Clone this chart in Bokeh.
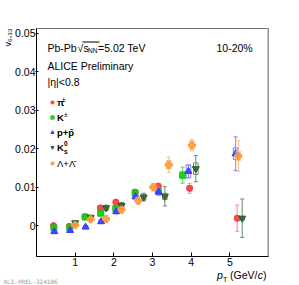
import math
from bokeh.plotting import figure
from bokeh.layouts import column, row
from bokeh.models import (ColumnDataSource, Whisker, TeeHead, Label, Span, Range1d,
                          FixedTicker, Legend, LegendItem, BoxAnnotation, Title)
from bokeh.embed import file_html
from bokeh.resources import INLINE

# ---------------- data ----------------
pi_x = [0.44, 0.85, 1.25, 1.65, 2.05, 2.55, 3.15, 3.96, 5.19]
pi_y = [0.0000, -0.0002, 0.0023, 0.0046, 0.0061, 0.0087, 0.0102, 0.0097, 0.0019]
pi_stat = [0.0003, 0.0003, 0.0003, 0.0004, 0.0004, 0.0006, 0.0008, 0.0013, 0.0034]
pi_sys = [0.0004, 0.0004, 0.0004, 0.0005, 0.0005, 0.0006, 0.0007, 0.0007, 0.0007]

k_x = [0.45, 0.86, 1.26, 1.66, 2.05, 2.55, 3.15, 3.78]
k_y = [-0.0006, -0.0006, 0.0022, 0.0032, 0.0044, 0.0084, 0.0090, 0.0131]
k_stat = [0.0003, 0.0003, 0.0004, 0.0004, 0.0005, 0.0006, 0.0009, 0.0021]
k_sys = [0.0004, 0.0004, 0.0004, 0.0005, 0.0005, 0.0006, 0.0007, 0.0009]

p_x = [0.46, 0.87, 1.27, 1.67, 2.06, 2.56, 3.16, 3.93, 5.15]
p_y = [-0.0016, -0.0013, -0.0004, 0.0010, 0.0036, 0.0075, 0.0087, 0.0141, 0.0187]
p_stat = [0.0004, 0.0004, 0.0004, 0.0004, 0.0005, 0.0006, 0.0008, 0.0016, 0.0044]
p_sys = [0.0004, 0.0004, 0.0004, 0.0005, 0.0005, 0.0006, 0.0007, 0.0017, 0.0015]

k0_x = [1.00, 1.40, 1.80, 2.20, 2.77, 3.32, 4.12, 5.32]
k0_y = [0.0007, 0.0021, 0.0046, 0.0052, 0.0074, 0.0076, 0.0148, 0.0019]
k0_stat = [0.0005, 0.0006, 0.0007, 0.0008, 0.0010, 0.0025, 0.0034, 0.0050]
k0_sys = [0.0005, 0.0005, 0.0006, 0.0007, 0.0008, 0.0008, 0.0015, 0.0005]

l_x = [1.00, 1.40, 1.80, 2.20, 2.63, 3.02, 3.42, 4.02, 5.22]
l_y = [0.0001, 0.0016, 0.0017, 0.0041, 0.0065, 0.0100, 0.0158, 0.0209, 0.0181]
l_stat = [0.0006, 0.0007, 0.0007, 0.0008, 0.0010, 0.0010, 0.0020, 0.0015, 0.0040]
l_sys = [0.0005, 0.0005, 0.0005, 0.0006, 0.0008, 0.0008, 0.0011, 0.0011, 0.0012]

x_ticks = [1, 2, 3, 4, 5]
y_ticks = [0.0, 0.01, 0.02, 0.03, 0.04, 0.05]
y_tick_labels = ["0", "0.01", "0.02", "0.03", "0.04", "0.05"]
y_title = "v₆,₃₃"

FONT = "Liberation Sans"
MAIN_H = 270
TOTAL_W, TOTAL_H = 299, 285

p = figure(width=TOTAL_W, height=MAIN_H, output_backend="svg",
           toolbar_location=None,
           x_range=Range1d(0, 6), y_range=Range1d(-0.00807, 0.0513),
           min_border_left=36, min_border_right=31, min_border_top=28,
           min_border_bottom=14)
p.grid.visible = False
p.outline_line_color = "#777777"
p.outline_line_width = 1
p.background_fill_color = "white"
p.border_fill_color = "white"

for ax in (p.xaxis[0], p.yaxis[0]):
    ax.axis_line_color = "black"
    ax.major_tick_line_color = "black"
    ax.minor_tick_line_color = None
    ax.major_label_text_font = FONT
    ax.major_label_text_font_size = "10.5px"
    ax.major_label_text_color = "black"
p.xaxis.ticker = FixedTicker(ticks=x_ticks)
p.xaxis.major_tick_in = 4
p.xaxis.major_tick_out = 0
p.xaxis.major_label_standoff = 1
p.yaxis.ticker = FixedTicker(ticks=y_ticks)
p.yaxis.major_label_overrides = {t: s for t, s in zip(y_ticks, y_tick_labels)}
p.yaxis.major_tick_in = 2
p.yaxis.major_tick_out = 1
p.yaxis.major_label_standoff = 0

# y-axis title, top-aligned in the left panel
p.add_layout(Title(text=y_title, align="right", text_font=FONT,
                   text_font_size="9px", text_font_style="normal",
                   text_color="black", standoff=0, offset=0), "left")

# right grey frame edge
p.add_layout(Span(location=6, dimension="height", line_color="#b4b4b4", line_width=2.5))

series = [
    ("pi", pi_x, pi_y, pi_stat, pi_sys, "circle", 6, "#ff3a3a", "#ff8585"),
    ("k", k_x, k_y, k_stat, k_sys, "square", 6, "#19c519", "#55d555"),
    ("p", p_x, p_y, p_stat, p_sys, "triangle", 7, "#3a3aff", "#8585ff"),
    ("k0", k0_x, k0_y, k0_stat, k0_sys, "inverted_triangle", 7, "#2e5e2e", "#6a8c6a"),
    ("l", l_x, l_y, l_stat, l_sys, "plus", 7, "#ff9a3c", "#ffbf80"),
]

renderers = {}
for name, xs, ys, st, sy, marker, size, col, lcol in series:
    src = ColumnDataSource(dict(
        x=xs, y=ys,
        lo=[a - b for a, b in zip(ys, st)], hi=[a + b for a, b in zip(ys, st)],
        h=[2 * s for s in sy]))
    p.rect(x="x", y="y", width=0.12, height="h", source=src, fill_color=None,
           line_color=lcol, line_width=1)
    w = Whisker(base="x", lower="lo", upper="hi", source=src, dimension="height",
                line_color=lcol, line_width=1, level="underlay",
                upper_head=TeeHead(size=4, line_color=lcol, line_width=1),
                lower_head=TeeHead(size=4, line_color=lcol, line_width=1))
    p.add_layout(w)
    r = p.scatter(x="x", y="y", source=src, marker=marker, size=size,
                  fill_color=col, line_color=col, fill_alpha=0.9)
    renderers[name] = r

# legends (bold and normal)
leg1 = Legend(items=[LegendItem(label="π", renderers=[renderers["pi"]]),
                     LegendItem(label="K", renderers=[renderers["k"]]),
                     LegendItem(label="p+p̄", renderers=[renderers["p"]]),
                     LegendItem(label="K", renderers=[renderers["k0"]])],
              location=(12, 103))
leg2 = Legend(items=[LegendItem(label="Λ+Λ̄", renderers=[renderers["l"]])],
              location=(12, 87))
for lg, style in ((leg1, "bold"), (leg2, "normal")):
    lg.label_text_font = FONT
    lg.label_text_font_size = "9.5px"
    lg.label_text_font_style = style
    lg.label_text_color = "black"
    lg.glyph_width = 8
    lg.glyph_height = 12
    lg.label_height = 12
    lg.label_standoff = 1
    lg.spacing = 3
    lg.padding = 0
    lg.margin = 0
    lg.border_line_color = None
    lg.background_fill_alpha = 0
    p.add_layout(lg)

footer = figure(width=TOTAL_W, height=TOTAL_H - MAIN_H, output_backend="svg",
                toolbar_location=None, x_axis_type=None, y_axis_type=None,
                x_range=Range1d(0, 1), y_range=Range1d(0, 1), min_border=0)
footer.grid.visible = False
footer.outline_line_color = None
footer.background_fill_color = "white"
footer.border_fill_color = "white"


def lab(fig, ox, oy, text, px, py, size="10.5px", style="normal", align="left",
        angle=0, color="black", font=FONT):
    # (ox, oy): page position of fig's frame bottom-left corner
    fig.add_layout(Label(x=px - ox, y=oy - py, x_units="screen", y_units="screen",
                         text=text, text_font=font, text_font_size=size,
                         text_font_style=style, text_align=align,
                         text_baseline="middle", angle=angle, text_color=color))


M = (p, 36, 256)
lab(*M, "Pb-Pb", 47, 47)
lab(*M, "√", 77, 47)
lab(*M, "s", 83, 47)
lab(*M, "NN", 87.5, 50, size="6.5px")
lab(*M, "=5.02 TeV", 97.5, 47)
p.add_layout(BoxAnnotation(left=82 - 36, right=99 - 36, top=256 - 41, bottom=256 - 42,
                           left_units="screen", right_units="screen",
                           top_units="screen", bottom_units="screen",
                           fill_color="black", fill_alpha=1, line_color=None))
lab(*M, "10-20%", 216, 47)
lab(*M, "ALICE Preliminary", 47, 65)
lab(*M, "|η|<0.8", 47, 81)

# legend super/subscripts
lab(*M, "±", 61.5, 99, size="6.5px")
lab(*M, "±", 63.5, 114, size="6.5px")
lab(*M, "0", 63.5, 143, size="6.5px", style="bold")
lab(*M, "s", 63.5, 151, size="6.5px", style="bold")

# x-axis title and watermark (footer)
F = (footer, 0, TOTAL_H)
lab(*F, "p", 216.5, 274.5, style="italic")
lab(*F, "T", 222.5, 278.5, size="7px")
lab(*F, "(GeV/", 229.5, 274.5)
lab(*F, "c", 257.2, 274.5, style="italic")
lab(*F, ")", 262.5, 274.5)
lab(*F, "ALI-PREL-324106", 3, 280.5, size="6px", color="#999999",
    font="DejaVu Sans Mono")

layout = column(p, row(footer))
open("out.html", "w").write(file_html(layout, INLINE))
